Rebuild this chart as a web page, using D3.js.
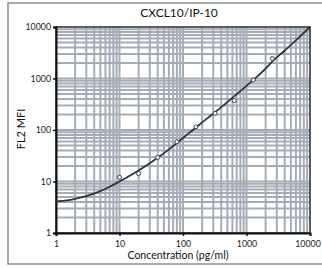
<!DOCTYPE html>
<html><head><meta charset="utf-8">
<script src="https://cdn.jsdelivr.net/npm/d3@7"></script>
<style>html,body{margin:0;padding:0;background:#fff;}svg{display:block;}</style>
</head><body>
<script>
const title = "CXCL10/IP-10";
const xLabel = "Concentration (pg/ml)";
const yLabel = "FL2 MFI";
const xTicks = [1, 10, 100, 1000, 10000];
const yTicks = [1, 10, 100, 1000, 10000];
// standards (pg/ml) and measured MFI
const stdConc = [10, 20, 40, 80, 160, 320, 640, 1280, 2560];
const stdMFI  = [12.1, 14.3, 29.3, 59, 115, 210, 373, 935, 2450];
// fitted curve
const fitConc = [1, 1.5, 2, 3, 5, 7, 10, 15, 20, 30, 40, 60, 80, 120, 160, 240, 320, 480, 640, 1000, 1280, 2000, 2560, 4000, 6000, 10000];
const fitMFI  = [4.1, 4.3, 4.6, 5.2, 6.5, 7.9, 10, 13.2, 16.3, 22.5, 29, 42, 56, 84, 112, 168, 222, 335, 450, 720, 940, 1560, 2150, 3500, 5500, 10000];

const W = 322, H = 268;
const m = {left: 56, top: 27, right: 12, bottom: 35};
const svg = d3.select("body").append("svg").attr("width", W).attr("height", H);

// outer frame
svg.append("rect").attr("x", 8).attr("y", 3).attr("width", 330).attr("height", 261)
  .attr("fill", "none").attr("stroke", "#8f8f8f").attr("stroke-width", 1.5);

const x = d3.scaleLog().domain([1, 10000]).range([m.left, W - m.right]);
const y = d3.scaleLog().domain([1, 10000]).range([H - m.bottom, m.top]);

// grid
const minor = [];
for (let d = 1; d < 10000; d *= 10) for (let k = 2; k <= 9; k++) minor.push(d * k);
const gridCol = "#a4adb7";
const g = svg.append("g");
g.selectAll(".vx").data(minor.concat(xTicks.slice(1, -1))).join("line")
  .attr("x1", d => x(d)).attr("x2", d => x(d)).attr("y1", y(1)).attr("y2", y(10000))
  .attr("stroke", gridCol).attr("stroke-width", 2);
g.selectAll(".hy").data(minor.concat(yTicks.slice(1, -1))).join("line")
  .attr("y1", d => y(d)).attr("y2", d => y(d)).attr("x1", x(1)).attr("x2", x(10000))
  .attr("stroke", gridCol).attr("stroke-width", 2);

// frame
svg.append("rect").attr("x", x(1)).attr("y", y(10000)).attr("width", x(10000) - x(1)).attr("height", y(1) - y(10000))
  .attr("fill", "none").attr("stroke", "#2a2a2a").attr("stroke-width", 1.5);

// axes
const xAxis = d3.axisBottom(x).tickValues(xTicks).tickFormat(d3.format("d")).tickSize(3).tickPadding(5);
const yAxis = d3.axisLeft(y).tickValues(yTicks).tickFormat(d3.format("d")).tickSize(3).tickPadding(2);
const fontFam = "Lato, 'Open Sans', sans-serif";
const gx = svg.append("g").attr("transform", `translate(0,${y(1)})`).call(xAxis);
const gy = svg.append("g").attr("transform", `translate(${x(1)},0)`).call(yAxis);
[gx, gy].forEach(a => {
  a.select(".domain").attr("stroke", "#111").attr("stroke-width", 2);
  a.selectAll(".tick line").attr("stroke", "#111").attr("stroke-width", 1.5);
  a.selectAll(".tick text").attr("fill", "#222").style("font-family", fontFam).style("font-size", "8.8px");
});
gx.selectAll(".tick text").filter(d => d === 10000).attr("dx", -2.5);

// fitted curve
const line = d3.line().x((d, i) => x(fitConc[i])).y(d => y(d)).curve(d3.curveMonotoneX);
svg.append("path").datum(fitMFI).attr("d", line).attr("fill", "none")
  .attr("stroke", "#2f3438").attr("stroke-width", 1.8);

// points
svg.selectAll(".pt").data(stdMFI).join("circle")
  .attr("cx", (d, i) => x(stdConc[i])).attr("cy", d => y(d)).attr("r", 2)
  .attr("fill", "#fff").attr("stroke", "#3a3f44").attr("stroke-width", 1);

// texts
svg.append("text").attr("x", 179).attr("y", 17).attr("text-anchor", "middle")
  .style("font-family", fontFam).style("font-size", "12px").attr("fill", "#111").text(title);
svg.append("text").attr("x", 178).attr("y", 259).attr("text-anchor", "middle")
  .style("font-family", fontFam).style("font-size", "10.5px").attr("fill", "#111").text(xLabel);
svg.append("text").attr("transform", "translate(25,129) rotate(-90)").attr("text-anchor", "middle")
  .style("font-family", fontFam).style("font-size", "11px").attr("fill", "#111").text(yLabel);
</script>
</body></html>
